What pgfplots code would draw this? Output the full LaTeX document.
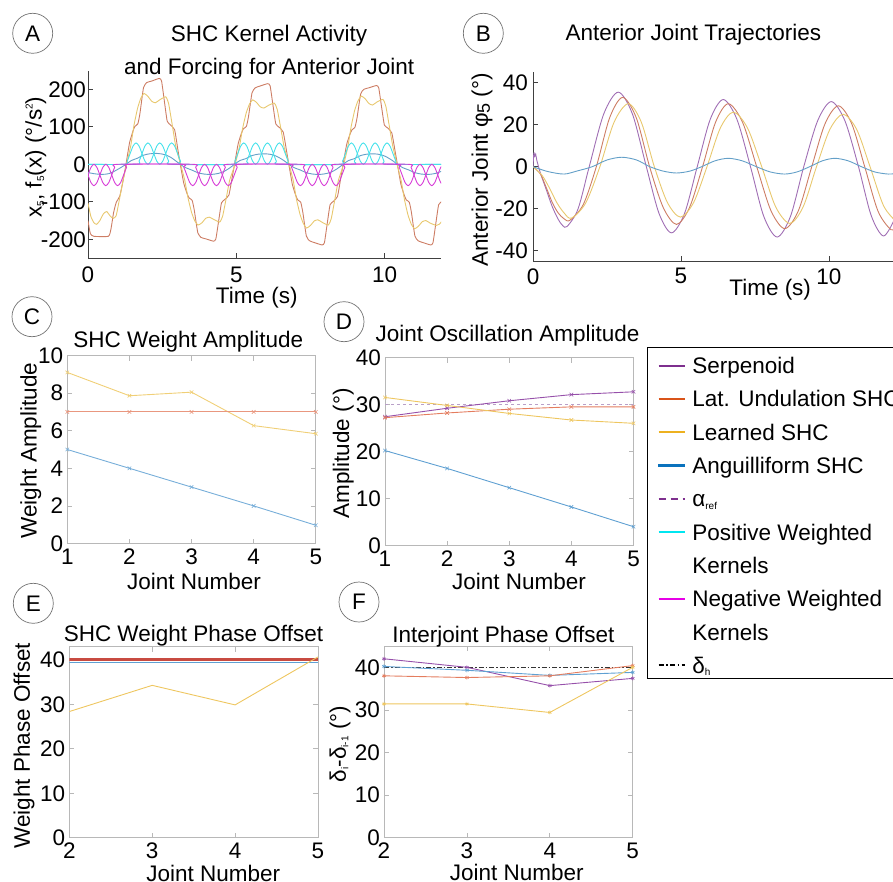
\documentclass[border=0pt]{standalone}
\usepackage{fontspec}
\setmainfont{Liberation Sans}
\usepackage{pgfplots}
\pgfplotsset{compat=1.18}

% faded line colours of the panels
\definecolor{aOrg}{RGB}{205,125,100}
\definecolor{aYel}{RGB}{232,200,110}
\definecolor{aBlu}{RGB}{100,160,200}
\definecolor{aCyn}{RGB}{70,225,235}
\definecolor{aMag}{RGB}{215,60,215}
\definecolor{bPur}{RGB}{160,110,180}
\definecolor{cPur}{RGB}{150,80,170}
\definecolor{cOrg}{RGB}{228,125,95}
\definecolor{cYel}{RGB}{238,198,95}
\definecolor{cBlu}{RGB}{95,160,210}
\definecolor{cRed}{RGB}{200,75,65}
\definecolor{cRef}{RGB}{185,160,200}
% legend colours
\definecolor{legPurple}{HTML}{7E2F8E}
\definecolor{legOrange}{HTML}{D95319}
\definecolor{legYellow}{HTML}{EDB120}
\definecolor{legAngBlue}{HTML}{0A72BD}
\definecolor{legCyan}{HTML}{00E6F0}
\definecolor{legMagenta}{HTML}{E600E6}

\newcommand{\fs}{\fontsize{22.5}{27}\selectfont}
\newcommand{\lo}[1]{\raisebox{-2.5pt}{\fontsize{10}{10}\selectfont #1}}
\newcommand{\hi}[1]{\raisebox{9pt}{\fontsize{10}{10}\selectfont #1}}

\pgfplotsset{
  base/.style={scale only axis, anchor=south west, font=\fs,
    /pgf/number format/assume math mode=true,
    tick label style={font=\fs, inner sep=0pt},
    tick align=inside, major tick length=5pt,
    title style={font=\fs, anchor=center, inner sep=0pt, yshift=-8pt},
    xlabel style={font=\fs, anchor=center, inner sep=0pt},
    ylabel style={font=\fs, anchor=center, inner sep=0pt},
    every axis plot/.append style={line width=0.9pt}},
  open/.style={base, axis lines*=left,
    axis line style={black!75, line width=0.8pt},
    tick style={black!75, line width=0.8pt}},
  boxed/.style={base, axis line style={black!28, line width=0.8pt},
    tick style={black!28, line width=0.8pt},
    yticklabel style={xshift=-4pt}, xticklabel style={yshift=-5pt}},
  xm/.style={mark=x, mark size=2.5pt, mark options={solid, line width=0.6pt}},
  am/.style={mark=asterisk, mark size=2pt, mark options={solid, line width=0.6pt}},
}

\begin{document}
\begin{tikzpicture}
\path[use as bounding box] (0pt,0pt) rectangle (893pt,-882pt);

% ---------------- A ----------------
\begin{axis}[open, at={(88pt,-258.05pt)}, width=353pt, height=187.5pt,
  xmin=0, xmax=11.9, ymin=-250, ymax=250,
  xtick={0,5,10}, ytick={-200,-100,0,100,200},
  yticklabel style={xshift=-2pt}, xticklabel style={yshift=-9pt},
  title={SHC Kernel Activity\\and Forcing for Anterior Joint},
  title style={at={(axis description cs:0.513,1.107)}, align=center,
    font=\fontsize{22.5}{33}\selectfont},
  xlabel={Time (s)}, xlabel style={at={(axis description cs:0.478,-0.212)}},
  ylabel={x\lo{5}, f\lo{5}(x) (°/s\hi{2})},
  ylabel style={at={(axis description cs:-0.148,0.539)}}]
\addplot[aOrg, smooth, tension=0.3] coordinates {
 (0,-150) (0.08,-185) (0.2,-192) (0.69,-192) (0.78,-170) (0.86,-130) (0.95,-102)
 (1.07,-85) (1.18,-45) (1.28,0) (1.40,57) (1.51,87) (1.58,101) (1.68,108) (1.75,135)
 (1.87,204) (1.98,218) (2.15,222) (2.40,229) (2.48,222) (2.58,165) (2.67,115)
 (2.78,105) (2.92,92) (3.03,39) (3.11,0) (3.23,-51) (3.34,-78) (3.41,-90) (3.51,-96)
 (3.58,-121) (3.70,-182) (3.81,-195) (3.98,-199) (4.23,-205) (4.31,-199) (4.41,-148)
 (4.50,-103) (4.61,-94) (4.75,-82) (4.86,-35) (4.94,0) (5.06,54) (5.17,82) (5.24,95)
 (5.34,101) (5.41,127) (5.53,191) (5.64,204) (5.81,209) (6.06,215) (6.14,209)
 (6.24,155) (6.33,108) (6.44,99) (6.58,86) (6.69,37) (6.77,0) (6.89,-54) (7.00,-82)
 (7.07,-95) (7.17,-101) (7.24,-127) (7.36,-191) (7.47,-204) (7.64,-209) (7.89,-215)
 (7.97,-209) (8.07,-155) (8.16,-108) (8.27,-99) (8.41,-86) (8.52,-37) (8.60,0)
 (8.72,53) (8.83,80) (8.90,92) (9.00,99) (9.07,124) (9.19,187) (9.30,200) (9.47,204)
 (9.72,210) (9.80,204) (9.90,151) (9.99,105) (10.10,97) (10.24,84) (10.35,36)
 (10.43,0) (10.55,-54) (10.66,-82) (10.73,-95) (10.83,-101) (10.90,-127) (11.02,-191)
 (11.13,-204) (11.30,-209) (11.55,-215) (11.63,-209) (11.73,-155) (11.82,-108) (11.93,-99)};
\addplot[aYel, smooth, tension=0.3] coordinates {
 (0,-104) (0.10,-140) (0.20,-156) (0.29,-160) (0.40,-150) (0.52,-132) (0.63,-126)
 (0.75,-138) (0.85,-144) (0.95,-137) (1.08,-85) (1.19,-40) (1.30,0) (1.44,49)
 (1.55,104) (1.67,149) (1.78,176) (1.89,189) (2.02,181) (2.15,168) (2.27,164)
 (2.42,172) (2.62,180) (2.72,161) (2.85,100) (2.96,47) (3.12,0) (3.26,-42) (3.37,-89)
 (3.49,-128) (3.60,-151) (3.71,-162) (3.84,-156) (3.97,-144) (4.09,-141) (4.24,-147)
 (4.44,-154) (4.54,-138) (4.67,-86) (4.78,-41) (4.96,0) (5.10,45) (5.21,95) (5.33,136)
 (5.44,160) (5.55,172) (5.68,165) (5.81,153) (5.93,150) (6.08,157) (6.28,163)
 (6.38,146) (6.51,91) (6.62,43) (6.78,0) (6.92,-44) (7.03,-94) (7.15,-134) (7.26,-158)
 (7.37,-170) (7.50,-163) (7.63,-151) (7.75,-148) (7.90,-155) (8.10,-162) (8.20,-145)
 (8.33,-90) (8.44,-43) (8.62,0) (8.76,47) (8.87,100) (8.99,144) (9.10,169) (9.21,182)
 (9.34,175) (9.47,162) (9.59,158) (9.74,166) (9.94,173) (10.04,155) (10.17,96)
 (10.28,46) (10.42,0) (10.56,-45) (10.67,-95) (10.79,-136) (10.90,-160) (11.01,-172)
 (11.14,-165) (11.27,-153) (11.39,-150) (11.54,-157) (11.74,-163) (11.84,-160) (11.95,-150)};
\addplot[aBlu, smooth] coordinates {
 (0,-22) (0.2,-25) (0.45,-27) (0.7,-25) (0.9,-18) (1.1,-9) (1.28,0) (1.46,10)
 (1.66,16) (1.86,24) (2.08,28) (2.33,29) (2.58,26) (2.78,19) (2.96,9) (3.11,0)
 (3.29,-9) (3.49,-15) (3.69,-22) (3.91,-26) (4.16,-27) (4.41,-24) (4.61,-18) (4.79,-9)
 (4.94,0) (5.12,10) (5.32,15) (5.52,23) (5.74,27) (5.99,28) (6.24,25) (6.44,18)
 (6.62,9) (6.77,0) (6.95,-9) (7.15,-15) (7.35,-22) (7.57,-26) (7.82,-27) (8.07,-24)
 (8.27,-18) (8.45,-9) (8.60,0) (8.78,10) (8.98,15) (9.18,23) (9.40,27) (9.65,28)
 (9.90,25) (10.10,18) (10.28,9) (10.43,0) (10.61,-9) (10.81,-15) (11.01,-22)
 (11.23,-26) (11.48,-27) (11.73,-24) (11.93,-18)};
% positive weighted kernels (even and odd members)
\addplot[aCyn, smooth] coordinates {
 (0,0) (1.22,0) (1.32,8.3) (1.42,28.5) (1.52,48.7) (1.62,57) (1.72,48.7) (1.82,28.5)
 (1.92,8.3) (2.02,0) (2.12,8.3) (2.22,28.5) (2.32,48.7) (2.42,57) (2.52,48.7)
 (2.62,28.5) (2.72,8.3) (2.82,0)
 (4.85,0) (4.95,8.3) (5.05,28.5) (5.15,48.7) (5.25,57) (5.35,48.7) (5.45,28.5)
 (5.55,8.3) (5.65,0) (5.75,8.3) (5.85,28.5) (5.95,48.7) (6.05,57) (6.15,48.7)
 (6.25,28.5) (6.35,8.3) (6.45,0)
 (8.48,0) (8.58,8.3) (8.68,28.5) (8.78,48.7) (8.88,57) (8.98,48.7) (9.08,28.5)
 (9.18,8.3) (9.28,0) (9.38,8.3) (9.48,28.5) (9.58,48.7) (9.68,57) (9.78,48.7)
 (9.88,28.5) (9.98,8.3) (10.08,0) (11.95,0)};
\addplot[aCyn, smooth] coordinates {
 (0,0) (1.62,0) (1.72,8.3) (1.82,28.5) (1.92,48.7) (2.02,57) (2.12,48.7) (2.22,28.5)
 (2.32,8.3) (2.42,0) (2.52,8.3) (2.62,28.5) (2.72,48.7) (2.82,57) (2.92,48.7)
 (3.02,28.5) (3.12,8.3) (3.22,0)
 (5.25,0) (5.35,8.3) (5.45,28.5) (5.55,48.7) (5.65,57) (5.75,48.7) (5.85,28.5)
 (5.95,8.3) (6.05,0) (6.15,8.3) (6.25,28.5) (6.35,48.7) (6.45,57) (6.55,48.7)
 (6.65,28.5) (6.75,8.3) (6.85,0)
 (8.88,0) (8.98,8.3) (9.08,28.5) (9.18,48.7) (9.28,57) (9.38,48.7) (9.48,28.5)
 (9.58,8.3) (9.68,0) (9.78,8.3) (9.88,28.5) (9.98,48.7) (10.08,57) (10.18,48.7)
 (10.28,28.5) (10.38,8.3) (10.48,0) (11.95,0)};
% negative weighted kernels
\addplot[aMag, smooth] coordinates {
 (-0.6,0) (-0.5,-8.3) (-0.4,-28.5) (-0.3,-48.7) (-0.2,-57) (-0.1,-48.7) (0,-28.5)
 (0.1,-8.3) (0.2,0) (0.3,-8.3) (0.4,-28.5) (0.5,-48.7) (0.6,-57) (0.7,-48.7)
 (0.8,-28.5) (0.9,-8.3) (1.0,0)
 (3.13,0) (3.23,-8.3) (3.33,-28.5) (3.43,-48.7) (3.53,-57) (3.63,-48.7) (3.73,-28.5)
 (3.83,-8.3) (3.93,0) (4.03,-8.3) (4.13,-28.5) (4.23,-48.7) (4.33,-57) (4.43,-48.7)
 (4.53,-28.5) (4.63,-8.3) (4.73,0)
 (6.76,0) (6.86,-8.3) (6.96,-28.5) (7.06,-48.7) (7.16,-57) (7.26,-48.7) (7.36,-28.5)
 (7.46,-8.3) (7.56,0) (7.66,-8.3) (7.76,-28.5) (7.86,-48.7) (7.96,-57) (8.06,-48.7)
 (8.16,-28.5) (8.26,-8.3) (8.36,0)
 (10.39,0) (10.49,-8.3) (10.59,-28.5) (10.69,-48.7) (10.79,-57) (10.89,-48.7)
 (10.99,-28.5) (11.09,-8.3) (11.19,0) (11.29,-8.3) (11.39,-28.5) (11.49,-48.7)
 (11.59,-57) (11.69,-48.7) (11.79,-28.5) (11.89,-8.3) (11.99,0)};
\addplot[aMag, smooth] coordinates {
 (-0.2,0) (-0.1,-8.3) (0,-28.5) (0.1,-48.7) (0.2,-57) (0.3,-48.7) (0.4,-28.5)
 (0.5,-8.3) (0.6,0) (0.7,-8.3) (0.8,-28.5) (0.9,-48.7) (1.0,-57) (1.1,-48.7)
 (1.2,-28.5) (1.3,-8.3) (1.4,0)
 (3.53,0) (3.63,-8.3) (3.73,-28.5) (3.83,-48.7) (3.93,-57) (4.03,-48.7) (4.13,-28.5)
 (4.23,-8.3) (4.33,0) (4.43,-8.3) (4.53,-28.5) (4.63,-48.7) (4.73,-57) (4.83,-48.7)
 (4.93,-28.5) (5.03,-8.3) (5.13,0)
 (7.16,0) (7.26,-8.3) (7.36,-28.5) (7.46,-48.7) (7.56,-57) (7.66,-48.7) (7.76,-28.5)
 (7.86,-8.3) (7.96,0) (8.06,-8.3) (8.16,-28.5) (8.26,-48.7) (8.36,-57) (8.46,-48.7)
 (8.56,-28.5) (8.66,-8.3) (8.76,0)
 (10.79,0) (10.89,-8.3) (10.99,-28.5) (11.09,-48.7) (11.19,-57) (11.29,-48.7)
 (11.39,-28.5) (11.49,-8.3) (11.59,0) (11.69,-8.3) (11.79,-28.5) (11.89,-48.7) (11.99,-57)};
\end{axis}

% ---------------- B ----------------
\begin{axis}[open, at={(533pt,-261.2pt)}, width=361pt, height=189pt,
  xmin=0, xmax=12.2, ymin=-45, ymax=45,
  xtick={0,5,10}, ytick={-40,-20,0,20,40},
  yticklabel style={xshift=-5pt}, xticklabel style={yshift=-7pt},
  title={Anterior Joint Trajectories},
  title style={at={(axis description cs:0.444,1.207)}},
  xlabel={Time (s)}, xlabel style={at={(axis description cs:0.657,-0.152)}},
  ylabel={Anterior Joint φ\raisebox{-2pt}{\fontsize{18}{18}\selectfont 5} (°)},
  ylabel style={at={(axis description cs:-0.141,0.483)}}]
\addplot[bPur, smooth] coordinates {
 (0,0) (0.03,6.5) (0.06,5) (0.09,6) (0.13,3) (0.25,-3) (0.45,-11) (0.65,-19)
 (0.85,-25) (1.0,-28) (1.15,-28.5) (1.52,-20.2) (1.90,0) (2.39,25.1) (2.88,35.5)
 (3.36,25.1) (3.83,0) (4.26,-22.3) (4.68,-31.5) (5.12,-22.3) (5.55,0) (5.99,22.6)
 (6.43,32) (6.89,22.6) (7.35,0) (7.80,-23.7) (8.25,-33.5) (8.70,-23.7) (9.15,0)
 (9.62,21.9) (10.08,31) (10.54,21.9) (11.0,0) (11.43,-23.3) (11.85,-33) (12.25,-24)};
\addplot[aOrg, smooth] coordinates {
 (0,0) (0.25,-3.5) (0.45,-10) (0.65,-17) (0.85,-22) (1.05,-24.8) (1.25,-25.5)
 (1.70,-18.0) (2.14,0) (2.59,23.3) (3.03,33) (3.49,23.3) (3.94,0) (4.40,-19.4)
 (4.85,-27.5) (5.29,-19.4) (5.73,0) (6.17,21.2) (6.60,30) (7.08,21.2) (7.56,0)
 (8.04,-20.9) (8.51,-29.5) (8.97,-20.9) (9.42,0) (9.87,20.5) (10.32,29) (10.77,20.5)
 (11.21,0) (11.66,-21.2) (12.1,-30) (12.3,-28)};
\addplot[aYel, smooth] coordinates {
 (0,0) (0.3,-4) (0.55,-10) (0.8,-17) (1.05,-22) (1.30,-24.5) (1.78,-17.3) (2.26,0)
 (2.74,21.2) (3.22,30) (3.66,21.2) (4.10,0) (4.54,-17) (4.98,-24) (5.43,-17)
 (5.88,0) (6.33,18.4) (6.77,26) (7.25,18.4) (7.73,0) (8.20,-19.1) (8.68,-27)
 (9.13,-19.1) (9.58,0) (10.03,17.7) (10.48,25) (10.94,17.7) (11.39,0) (11.85,-18.7)
 (12.3,-26.5)};
\addplot[aBlu, smooth] coordinates {
 (0,0) (0.5,-2.3) (1.05,-3.5) (1.5,-2) (2.0,0) (2.5,3.2) (3.0,4.5) (3.5,3.2)
 (3.95,0) (4.4,-2.1) (4.85,-3) (5.3,-2.1) (5.7,0) (6.15,2.8) (6.6,4) (7.07,2.8)
 (7.55,0) (8.02,-2.5) (8.5,-3.5) (8.92,-2.5) (9.35,0) (9.78,2.8) (10.2,4) (10.65,2.8)
 (11.1,0) (11.55,-2.5) (12.0,-3.5) (12.3,-3.2)};
\end{axis}

% ---------------- C ----------------
\begin{axis}[boxed, at={(67.3pt,-543.5pt)}, width=248.5pt, height=188pt,
  xmin=1, xmax=5, ymin=0, ymax=10, xtick={1,2,3,4,5}, ytick={0,2,4,6,8,10},
  title={SHC Weight Amplitude},
  title style={at={(axis description cs:0.487,1.082)}},
  xlabel={Joint Number}, xlabel style={at={(axis description cs:0.51,-0.203)}},
  ylabel={Weight Amplitude}, ylabel style={at={(axis description cs:-0.147,0.493)}}]
\addplot[cYel!85!white, xm] coordinates {(1,9.1) (2,7.86) (3,8.05) (4,6.27) (5,5.84)};
\addplot[cOrg!80!white, xm] coordinates {(1,7) (2,7) (3,7) (4,7) (5,7)};
\addplot[cBlu!85!white, xm] coordinates {(1,5) (2,4) (3,3) (4,2) (5,0.97)};
\end{axis}

% ---------------- D ----------------
\begin{axis}[boxed, at={(385pt,-545.5pt)}, width=248.5pt, height=188pt,
  xmin=1, xmax=5, ymin=0, ymax=40, xtick={1,2,3,4,5}, ytick={0,10,20,30,40},
  title={Joint Oscillation Amplitude},
  title style={at={(axis description cs:0.493,1.125)}},
  xlabel={Joint Number}, xlabel style={at={(axis description cs:0.539,-0.193)}},
  ylabel={Amplitude (°)}, ylabel style={at={(axis description cs:-0.168,0.49)}}]
\addplot[cRef, dashed] coordinates {(1,30) (5,30)};
\addplot[cPur, xm] coordinates {(1,27.4) (2,29.2) (3,30.8) (4,32.1) (5,32.7)};
\addplot[cOrg, xm] coordinates {(1,27.2) (2,28.2) (3,29.0) (4,29.5) (5,29.5)};
\addplot[cYel, xm] coordinates {(1,31.5) (2,29.8) (3,28.1) (4,26.7) (5,26.0)};
\addplot[cBlu, xm] coordinates {(1,20.2) (2,16.4) (3,12.3) (4,8.2) (5,4.0)};
\end{axis}

% ---------------- legend (own hidden axis, same frame as D) ----------------
\begin{axis}[base, hide axis, at={(385pt,-545.5pt)}, width=248.5pt, height=188pt,
  xmin=0, xmax=1, ymin=0, ymax=1,
  legend image code/.code={\draw[#1, line width=1.8pt] (0pt,8pt) -- (26pt,8pt);},
  legend style={at={(1.0543,1.0559)}, anchor=north west, draw=black,
    line width=1.2pt, fill=white, font=\fs, inner xsep=10pt, inner ysep=0pt,
    row sep=2.3pt, column sep=7pt,
    nodes={inner sep=0pt, text height=26pt, text depth=5pt},
    cells={anchor=base west}}]
\addlegendimage{legPurple}
\addlegendentry{Serpenoid}
\addlegendimage{legOrange}
\addlegendentry{Lat. Undulation SHC}
\addlegendimage{legYellow}
\addlegendentry{Learned SHC}
\addlegendimage{legend image code/.code={\fill[legAngBlue] (0pt,7.1pt) rectangle (26pt,8.9pt);}}
\addlegendentry{Anguilliform SHC}
\addlegendimage{legPurple, dash pattern=on 7pt off 5pt}
\addlegendentry{α\lo{ref}}
\addlegendimage{legCyan}
\addlegendentry{Positive Weighted}
\addlegendimage{empty legend}
\addlegendentry{Kernels}
\addlegendimage{legMagenta}
\addlegendentry{Negative Weighted}
\addlegendimage{empty legend}
\addlegendentry{Kernels}
\addlegendimage{black, dash pattern=on 5pt off 2.5pt on 1.5pt off 2.5pt}
\addlegendentry{δ\lo{h}}
\end{axis}

% ---------------- E ----------------
\begin{axis}[boxed, at={(69.3pt,-837.7pt)}, width=248.7pt, height=191pt,
  xmin=2, xmax=5, ymin=0, ymax=43, xtick={2,3,4,5}, ytick={0,10,20,30,40},
  title={SHC Weight Phase Offset},
  title style={at={(axis description cs:0.499,1.070)}},
  xlabel={Joint Number}, xlabel style={at={(axis description cs:0.579,-0.186)}},
  ylabel={Weight Phase Offset}, ylabel style={at={(axis description cs:-0.182,0.482)}}]
\addplot[cBlu] coordinates {(2,39.5) (3,39.5) (4,39.5) (5,39.5)};
\addplot[cRed, line width=2.5pt] coordinates {(2,40.1) (3,40.1) (4,40.1) (5,40.1)};
\addplot[cYel] coordinates {(2,28.4) (3,34.3) (4,29.9) (5,40.7)};
\end{axis}

% ---------------- F ----------------
\begin{axis}[boxed, at={(384pt,-837.7pt)}, width=248.7pt, height=191.7pt,
  xmin=2, xmax=5, ymin=0, ymax=45, xtick={2,3,4,5}, ytick={0,10,20,30,40},
  title={Interjoint Phase Offset},
  title style={at={(axis description cs:0.48,1.057)}},
  xlabel={Joint Number}, xlabel style={at={(axis description cs:0.534,-0.183)}},
  ylabel={δ\lo{i}-δ\lo{i-1} (°)}, ylabel style={at={(axis description cs:-0.177,0.489)}}]
\addplot[black!80, line width=0.8pt, dash pattern=on 5pt off 2pt on 1.5pt off 2pt] coordinates {(2,40) (5,40)};
\addplot[cPur, am] coordinates {(2,42.0) (3,40.0) (4,35.7) (5,37.4)};
\addplot[cBlu, am] coordinates {(2,40.2) (3,39.3) (4,38.1) (5,38.8)};
\addplot[cOrg, am] coordinates {(2,38.0) (3,37.6) (4,38.0) (5,40.4)};
\addplot[cYel, am] coordinates {(2,31.4) (3,31.4) (4,29.4) (5,40.0)};
\end{axis}

% panel letters
\tikzset{lab/.style={circle, draw=black!55, line width=0.7pt, minimum size=40pt,
  inner sep=0pt, font=\fs}}
\node[lab] at (32.7pt,-33.3pt) {A};
\node[lab] at (483.3pt,-33.3pt) {B};
\node[lab] at (32pt,-316.7pt) {C};
\node[lab] at (344pt,-321.7pt) {D};
\node[lab] at (33.3pt,-603.3pt) {E};
\node[lab] at (359pt,-602pt) {F};
\end{tikzpicture}
\end{document}
